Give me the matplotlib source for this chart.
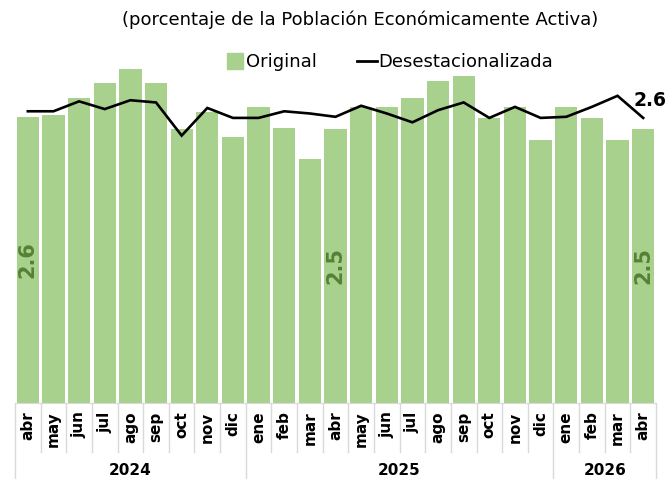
import matplotlib
matplotlib.use("Agg")
import matplotlib.pyplot as plt
from matplotlib.lines import Line2D
from matplotlib.transforms import blended_transform_factory

# ---- data ----
months = ["abr", "may", "jun", "jul", "ago", "sep", "oct", "nov", "dic",
          "ene", "feb", "mar", "abr", "may", "jun", "jul", "ago", "sep", "oct", "nov", "dic",
          "ene", "feb", "mar", "abr"]
years = ["2024", "2025", "2026"]
year_counts = [9, 12, 4]
original = [2.59, 2.61, 2.76, 2.90, 3.02, 2.90, 2.48, 2.63, 2.41,
            2.68, 2.49, 2.21, 2.48, 2.68, 2.68, 2.76, 2.91, 2.96, 2.58, 2.68, 2.38,
            2.68, 2.58, 2.38, 2.48]
desest = [2.64, 2.64, 2.73, 2.66, 2.74, 2.72, 2.42, 2.67, 2.58,
          2.58, 2.64, 2.62, 2.59, 2.69, 2.62, 2.54, 2.65, 2.72, 2.58, 2.68, 2.58,
          2.59, 2.68, 2.78, 2.58]
title = "(porcentaje de la Población Económicamente Activa)"

W, H = 670, 479
fig = plt.figure(figsize=(W / 100, H / 100), dpi=100)
left_px, right_px, bottom_px = 15, 656, 403
ymax = 3.1
k = 110.5
top_px = bottom_px - ymax * k
ax = fig.add_axes([left_px / W, 1 - bottom_px / H, (right_px - left_px) / W, (bottom_px - top_px) / H])

green = "#A9D18E"
x = list(range(len(months)))
ax.bar(x, original, width=0.87, color=green, zorder=1)
ax.plot(x, desest, color="black", lw=1.9, zorder=3, solid_joinstyle="miter")

ax.set_xlim(-0.5, len(months) - 0.5)
ax.set_ylim(0, ymax)
for s in ["top", "right", "left"]:
    ax.spines[s].set_visible(False)
ax.spines["bottom"].set_color("#D9D9D9")
ax.yaxis.set_visible(False)
ax.set_xticks(x)
ax.set_xticklabels(months, rotation=90, fontsize=11, fontweight="bold", color="black")
ax.tick_params(axis="x", length=0, pad=6)

# separators
trans = blended_transform_factory(ax.transData, ax.transAxes)
ax_h = bottom_px - top_px
month_depth = 49 / ax_h
year_depth = 76 / ax_h
boundaries = [0]
for c in year_counts:
    boundaries.append(boundaries[-1] + c)
for i in range(len(months) + 1):
    d = year_depth if i in boundaries else month_depth
    ax.plot([i - 0.5, i - 0.5], [0, -d], transform=trans, color="#D9D9D9", lw=1, clip_on=False)

# year labels
for yr, s, c in zip(years, boundaries[:-1], year_counts):
    ax.text(s + (c - 1) / 2, -(470 - 403) / ax_h, yr, transform=trans, ha="center", va="center",
            fontsize=11, fontweight="bold")

# value labels inside bars (abr months)
for i, m in enumerate(months):
    if m == "abr":
        ax.text(i, original[i] / 2, f"{original[i]:.1f}", rotation=90, ha="center", va="center",
                fontsize=15, fontweight="bold", color="#548235", zorder=4)

# end label for line
ax.annotate(f"{desest[-1]:.1f}", xy=(x[-1], desest[-1]), xytext=(7, 17), textcoords="offset pixels",
            ha="center", va="center", fontsize=13.5, fontweight="bold", annotation_clip=False)

# legend
handles = [Line2D([], [], marker="s", linestyle="none", markersize=11, color=green),
           Line2D([], [], color="black", lw=2)]
fig.legend(handles, ["Original", "Desestacionalizada"], loc="center",
           bbox_to_anchor=(389 / W, 1 - 62 / H), ncol=2, frameon=False, fontsize=13,
           handlelength=1.1, handletextpad=0.1, columnspacing=2.2)

fig.text(360 / W, 1 - 20 / H, title, ha="center", va="center", fontsize=13)

fig.savefig("out.png", dpi=100)
